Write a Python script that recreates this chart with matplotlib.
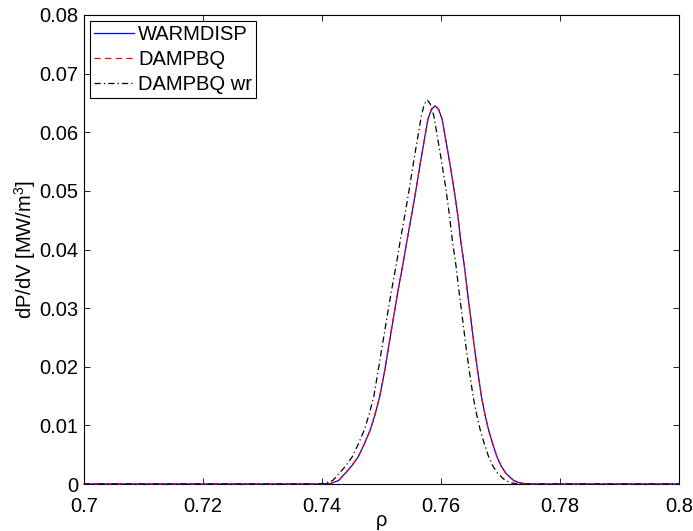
import matplotlib

matplotlib.use("Agg")

import matplotlib.pyplot as plt

# WARMDISP (blue, solid)
WARM_RHO = [
    0.7000, 0.7400, 0.7415, 0.7428, 0.7439, 0.7450, 0.7461, 0.7471, 0.7481,
    0.7489, 0.7497, 0.7505, 0.7512, 0.7520, 0.7528, 0.7536, 0.7543, 0.7551,
    0.7558, 0.7565, 0.7572, 0.7578, 0.7584, 0.7590, 0.7596, 0.7602, 0.7608,
    0.7615, 0.7622, 0.7628, 0.7633, 0.7639, 0.7644, 0.7650, 0.7656, 0.7662,
    0.7668, 0.7674, 0.7680, 0.7687, 0.7694, 0.7701, 0.7709, 0.7722, 0.7732,
    0.7745, 0.8000,
]
WARM_P = [
    0.0, 0.0, 0.0001, 0.0006, 0.00182, 0.0031, 0.00466, 0.0068, 0.0092,
    0.0118, 0.0149, 0.0191, 0.0234, 0.0283, 0.0331, 0.0375, 0.0416, 0.0461,
    0.0502, 0.0546, 0.0587, 0.0622, 0.0639, 0.0645, 0.0639, 0.0622, 0.0587,
    0.0546, 0.0502, 0.0460, 0.0416, 0.0374, 0.0331, 0.0283, 0.0234, 0.0190,
    0.0149, 0.0118, 0.0092, 0.0068, 0.00466, 0.0031, 0.00182, 0.0006, 0.0002,
    0.0, 0.0,
]

# DAMPBQ (red, dashed) lies on top of WARMDISP
DAMP_RHO = list(WARM_RHO)
DAMP_P = list(WARM_P)

# DAMPBQ wr (black, dash-dot)
WR_RHO = [
    0.7000, 0.7392, 0.7405, 0.7418, 0.7429, 0.7440, 0.7451, 0.7461, 0.7471,
    0.7479, 0.7487, 0.7494, 0.7501, 0.7509, 0.7517, 0.7525, 0.7532, 0.7540,
    0.7547, 0.7554, 0.7561, 0.7567, 0.7572, 0.7577, 0.7582, 0.7588, 0.7594,
    0.7601, 0.7608, 0.7614, 0.7619, 0.7625, 0.7630, 0.7636, 0.7642, 0.7648,
    0.7654, 0.7660, 0.7666, 0.7673, 0.7680, 0.7687, 0.7695, 0.7708, 0.7718,
    0.7730, 0.8000,
]
WR_P = [
    0.0, 0.0, 0.0001, 0.0006, 0.00182, 0.0031, 0.00466, 0.0068, 0.0092,
    0.0118, 0.0149, 0.0191, 0.0234, 0.0283, 0.0331, 0.0375, 0.0418, 0.0463,
    0.0505, 0.0550, 0.0592, 0.0628, 0.0648, 0.0655, 0.0648, 0.0628, 0.0592,
    0.0550, 0.0505, 0.0460, 0.0416, 0.0374, 0.0331, 0.0283, 0.0234, 0.0190,
    0.0149, 0.0118, 0.0092, 0.0068, 0.00466, 0.0031, 0.00182, 0.0006, 0.0002,
    0.0, 0.0,
]

LABELS = ["WARMDISP", "DAMPBQ", "DAMPBQ wr"]
X_TICKS = [0.70, 0.72, 0.74, 0.76, 0.78, 0.80]
X_TICK_LABELS = ["0.7", "0.72", "0.74", "0.76", "0.78", "0.8"]
Y_TICKS = [0.0, 0.01, 0.02, 0.03, 0.04, 0.05, 0.06, 0.07, 0.08]
Y_TICK_LABELS = ["0", "0.01", "0.02", "0.03", "0.04", "0.05", "0.06",
                 "0.07", "0.08"]

plt.rcParams.update({
    "font.family": ["Liberation Sans", "DejaVu Sans"],
    "font.size": 14.5,
    "mathtext.fontset": "custom",
    "mathtext.rm": "Liberation Sans",
    "axes.linewidth": 0.8,
})

fig = plt.figure(figsize=(6.93, 5.31), dpi=100)
ax = fig.add_axes([84 / 693, 1 - 484 / 531, 595 / 693, 469 / 531])

ax.plot(WARM_RHO, WARM_P, color="#0000ff", lw=0.9, label=LABELS[0],
        zorder=3, clip_on=False)
ax.plot(DAMP_RHO, DAMP_P, color="#ff0000", lw=0.9, dashes=(5, 3.5),
        label=LABELS[1], zorder=4, clip_on=False)
ax.plot(WR_RHO, WR_P, color="black", lw=0.9, dashes=(5, 2.5, 1, 2.5),
        label=LABELS[2], zorder=5, clip_on=False)

ax.set_xlim(0.7, 0.8)
ax.set_ylim(0, 0.08)
ax.set_xticks(X_TICKS, X_TICK_LABELS)
ax.set_yticks(Y_TICKS, Y_TICK_LABELS)
ax.tick_params(direction="in", length=4, width=0.6, top=True, right=True)
ax.tick_params(axis="x", pad=9)
ax.tick_params(axis="y", pad=4)

ax.set_xlabel("ρ")
ax.set_ylabel("dP/dV [MW/m$^3$]")
ax.xaxis.set_label_coords(0.5, -0.058)
ax.yaxis.set_label_coords(-0.077, 0.5)

leg = ax.legend(loc="upper left", fancybox=False, framealpha=1,
                edgecolor="black", borderaxespad=0.3, handlelength=2.0,
                handletextpad=0.2, labelspacing=0.3, borderpad=0.2)
leg.get_frame().set_linewidth(0.8)

fig.savefig("out.png", dpi=100)
